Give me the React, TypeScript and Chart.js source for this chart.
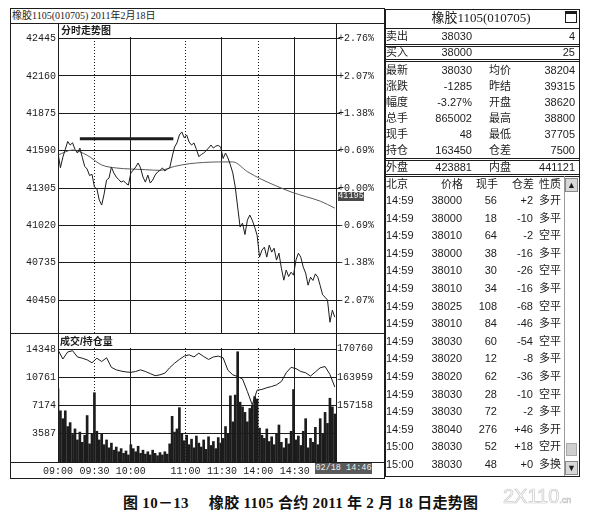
import React, { useEffect, useRef } from 'react';
import { Chart, registerables } from 'chart.js';

Chart.register(...registerables);

// one price / volume sample every 2 minutes of trading time, starting 09:00
const MINUTE_STEP = 2;
const priceValues = [
  41572, 41460, 41540, 41600, 41660, 41633, 41650, 41600, 41572, 41610,
  41540, 41470, 41450, 41400, 41410, 41313, 41300, 41213, 41175, 41260,
  41366, 41381, 41465, 41420, 41389, 41370, 41350, 41360, 41340, 41328,
  41420, 41442, 41465, 41496, 41458, 41389, 41350, 41404, 41343, 41366,
  41404, 41427, 41440, 41458, 41435, 41450, 41458, 41542, 41618, 41649,
  41710, 41733, 41688, 41710, 41656, 41633, 41649, 41600, 41545, 41560,
  41572, 41590, 41610, 41633, 41610, 41625, 41630, 41618, 41530, 41572,
  41534, 41481, 41420, 41313, 41160, 41007, 41037, 40950, 41060, 41099,
  41060, 41007, 40946, 40778, 40831, 40854, 40778, 40869, 40816, 40846,
  40755, 40808, 40694, 40602, 40679, 40630, 40663, 40640, 40755, 40808,
  40778, 40702, 40656, 40564, 40625, 40600, 40650, 40625, 40560, 40490,
  40472, 40450, 40281, 40373, 40320,
];
// average price line, one value every 12 minutes
const AVG_STEP = 12;
const avgValues = [
  41557, 41595, 41555, 41481, 41458, 41450, 41445, 41440, 41470, 41490,
  41500, 41504, 41504, 41430, 41370, 41320, 41275, 41240, 41205, 41152,
];
// open interest, one value every 4 minutes
const OI_STEP = 4;
const openInterest = [
  170500, 168300, 170000, 170300, 168800, 168500, 168100, 167400, 168500, 167700,
  168600, 166300, 165700, 165400, 165200, 165100, 165300, 165700, 165300, 164800,
  164300, 164500, 164900, 166200, 167300, 168200, 169000, 169300, 168800, 169700,
  168900, 168200, 168800, 169000, 168600, 165600, 164500, 164100, 163500, 160500,
  157300, 160800, 161000, 161400, 161700, 162100, 162900, 165000, 166300, 166000,
  165300, 165000, 164200, 165200, 166200, 166500, 164600, 161600,
];
const volumeValues = [
  9300, 6500, 5500, 6500, 4500, 5000, 3500, 4200, 2800, 3800,
  2500, 3400, 5900, 2300, 3600, 8800, 3900, 2800, 3600, 2200,
  2800, 1800, 2400, 1500, 1900, 1300, 1700, 1100, 1400, 900,
  2200, 1700, 1300, 2000, 1100, 1500, 1000, 1300, 900, 1500,
  1100, 800, 1200, 900, 1300, 1000, 2300, 5800, 3800, 4200,
  6900, 3600, 2700, 3400, 2200, 2900, 1800, 3300, 2400, 1900,
  2800, 1600, 3200, 2100, 2600, 1700, 3100, 2400, 3000, 4500,
  3600, 8400, 5100, 8500, 14000, 7600, 7000, 6300, 5100, 6800,
  7200, 8300, 8000, 4300, 3400, 3000, 4200, 2600, 3200, 2200,
  3600, 4700, 2500, 1800, 3000, 2300, 3900, 9200, 2800, 3300,
  2100, 3900, 5500, 1800, 3000, 2500, 4400, 2200, 5500, 3600,
  6300, 4900, 8100, 7000, 6100,
];
// thick horizontal marker drawn over the morning range
const markerSpan = [18, 95];
const markerPrice = 41680;

const priceTicks = [40450, 40735, 41020, 41305, 41590, 41875, 42160, 42445];
const pctLabels = ['-2.07%', '-1.38%', '-0.69%', '+0.00%', '+0.69%', '+1.38%', '+2.07%', '+2.76%'];
const timeTicks = [0, 30, 60, 105, 135, 165, 195];
const timeLabels = ['09:00', '09:30', '10:00', '11:00', '11:30', '14:00', '14:30'];
const solidTimes = [60, 135, 195];
const dottedTimes = [30, 105, 165];
const volumeTicks = [3587, 7174, 10761, 14348];
const oiTicks = [157158, 163959, 170760];

const quoteRows = [
  ['卖出', '38030', '4'],
  ['买入', '38000', '25'],
];
const statRows = [
  ['最新', '38030', '均价', '38204'],
  ['涨跌', '-1285', '昨结', '39315'],
  ['幅度', '-3.27%', '开盘', '38620'],
  ['总手', '865002', '最高', '38800'],
  ['现手', '48', '最低', '37705'],
  ['持仓', '163450', '仓差', '7500'],
];
const outerRow = ['外盘', '423881', '内盘', '441121'];
const tradeHeader = ['北京', '价格', '现手', '仓差', '性质'];
const tradeTimes = ['14:59', '14:59', '14:59', '14:59', '14:59', '14:59', '14:59', '14:59', '14:59', '14:59', '14:59', '14:59', '14:59', '14:59', '15:00', '15:00'];
const tradePrices = ['38000', '38000', '38010', '38000', '38010', '38010', '38025', '38010', '38030', '38020', '38020', '38030', '38030', '38040', '38030', '38030'];
const tradeVolumes = ['56', '18', '64', '38', '30', '34', '108', '84', '60', '12', '62', '28', '72', '276', '52', '48'];
const tradeDiffs = ['+2', '-10', '-2', '-16', '-26', '-16', '-68', '-46', '-54', '-8', '-36', '-10', '-2', '+46', '+18', '+0'];
const tradeTypes = ['多开', '多平', '空平', '多平', '空平', '多平', '空平', '多平', '空平', '多平', '多平', '空平', '多平', '多开', '空开', '多换'];

const INK = '#1c1c1c';
const MONO = "'Liberation Mono', 'DejaVu Sans Mono', monospace";
const SANS = "'Liberation Sans', 'Noto Sans CJK SC', sans-serif";
const CJK = "'Liberation Serif', 'Noto Sans CJK SC', serif";
const tickFont = { family: MONO, size: 10 };

const setTicks = (values: number[]) => (s: any) => {
  s.ticks = values.map((v) => ({ value: v }));
};
const fixWidth = (w: number) => (s: any) => {
  s.width = w;
  s.paddingTop = 0;
  s.paddingBottom = 0;
};
const fixHeight = (h: number) => (s: any) => {
  s.height = h;
  s.paddingLeft = 0;
  s.paddingRight = 0;
};

const PriceChart: React.FC = () => {
  const canvasRef = useRef<HTMLCanvasElement | null>(null);

  useEffect(() => {
    if (!canvasRef.current) return;
    const chart = new Chart(canvasRef.current, {
      type: 'line',
      data: {
        datasets: [
          {
            data: priceValues.map((v, i) => ({ x: i * MINUTE_STEP, y: v })),
            borderColor: INK,
            borderWidth: 1,
            pointRadius: 0,
          },
          {
            data: avgValues.map((v, i) => ({ x: i * AVG_STEP, y: v })),
            borderColor: '#5a5a5a',
            borderWidth: 1,
            pointRadius: 0,
            cubicInterpolationMode: 'monotone',
          },
          {
            data: markerSpan.map((m) => ({ x: m, y: markerPrice })),
            borderColor: INK,
            borderWidth: 3,
            pointRadius: 0,
          },
        ],
      },
      options: {
        animation: false,
        responsive: false,
        maintainAspectRatio: false,
        layout: { padding: 0 },
        plugins: { legend: { display: false }, tooltip: { enabled: false } },
        scales: {
          x: {
            type: 'linear',
            min: 0,
            max: 229,
            afterBuildTicks: setTicks(solidTimes),
            ticks: { display: false },
            grid: { color: INK, drawTicks: false },
            border: { display: false },
            afterFit: fixHeight(0),
          },
          x2: {
            type: 'linear',
            position: 'bottom',
            min: 0,
            max: 229,
            afterBuildTicks: setTicks(dottedTimes),
            ticks: { display: false },
            grid: { color: INK, drawTicks: false },
            border: { display: false, dash: [1, 2] },
            afterFit: fixHeight(0),
          },
          y: {
            position: 'left',
            min: 40199,
            max: 42564,
            afterBuildTicks: setTicks(priceTicks),
            ticks: { font: tickFont, color: INK, padding: 2, callback: (v: any) => String(v) },
            grid: { color: INK, drawTicks: false },
            border: { color: INK },
            afterFit: fixWidth(48),
          },
          y1: {
            position: 'right',
            min: 40199,
            max: 42564,
            afterBuildTicks: setTicks(priceTicks),
            ticks: { font: tickFont, color: INK, padding: -2, callback: (_v: any, i: number) => pctLabels[i] },
            grid: { drawOnChartArea: false, color: INK, tickLength: 4 },
            border: { color: INK },
            afterFit: fixWidth(47),
          },
        },
      },
    } as any);

    return () => {
      chart.destroy();
    };
  }, []);

  return (
    <canvas
      ref={canvasRef}
      width={373}
      height={310}
      style={{ position: 'absolute', left: 10, top: 23, width: 373, height: 310 }}
    />
  );
};

const VolumeChart: React.FC = () => {
  const canvasRef = useRef<HTMLCanvasElement | null>(null);

  useEffect(() => {
    if (!canvasRef.current) return;
    const chart = new Chart(canvasRef.current, {
      type: 'bar',
      data: {
        datasets: [
          {
            type: 'line',
            data: openInterest.map((v, i) => ({ x: i * OI_STEP, y: v })),
            yAxisID: 'y1',
            borderColor: INK,
            borderWidth: 1,
            pointRadius: 0,
          },
          {
            type: 'bar',
            data: volumeValues.map((v, i) => ({ x: i * MINUTE_STEP, y: v })),
            yAxisID: 'y',
            backgroundColor: INK,
            barThickness: 2,
          },
        ],
      },
      options: {
        animation: false,
        responsive: false,
        maintainAspectRatio: false,
        layout: { padding: 0 },
        plugins: { legend: { display: false }, tooltip: { enabled: false } },
        scales: {
          x: {
            type: 'linear',
            min: 0,
            max: 229,
            offset: false,
            afterBuildTicks: setTicks(timeTicks),
            ticks: {
              font: tickFont,
              color: INK,
              padding: 3,
              maxRotation: 0,
              autoSkip: false,
              callback: (_v: any, i: number) => timeLabels[i],
            },
            grid: {
              offset: false,
              drawTicks: false,
              color: (c: any) => (c.tick && dottedTimes.includes(c.tick.value) ? 'rgba(0,0,0,0)' : INK),
            },
            border: { color: INK },
            afterFit: fixHeight(16),
          },
          x2: {
            type: 'linear',
            position: 'bottom',
            min: 0,
            max: 229,
            offset: false,
            afterBuildTicks: setTicks(dottedTimes),
            ticks: { display: false },
            grid: { offset: false, color: INK, drawTicks: false },
            border: { display: false, dash: [1, 2] },
            afterFit: fixHeight(0),
          },
          y: {
            position: 'left',
            min: 0,
            max: 16380,
            afterBuildTicks: setTicks(volumeTicks),
            ticks: { font: tickFont, color: INK, padding: 2, callback: (v: any) => String(v) },
            grid: { color: INK, drawTicks: false },
            border: { color: INK },
            afterFit: fixWidth(48),
          },
          y1: {
            position: 'right',
            min: 143556,
            max: 174555,
            afterBuildTicks: setTicks(oiTicks),
            ticks: { font: tickFont, color: INK, padding: 1, callback: (v: any) => String(v) },
            grid: { drawOnChartArea: false, drawTicks: false },
            border: { color: INK },
            afterFit: fixWidth(47),
          },
        },
      },
    } as any);

    return () => {
      chart.destroy();
    };
  }, []);

  return (
    <canvas
      ref={canvasRef}
      width={373}
      height={145}
      style={{ position: 'absolute', left: 10, top: 333, width: 373, height: 145 }}
    />
  );
};

const Txt = ({ x, y, w = 70, align = 'left', children, style = {} }: any) => {
  const left = align === 'right' ? x - w : align === 'center' ? x - w / 2 : x;
  return (
    <div
      style={{
        position: 'absolute',
        left,
        top: y - 8,
        width: w,
        height: 16,
        lineHeight: '16px',
        textAlign: align,
        whiteSpace: 'nowrap',
        ...style,
      }}
    >
      {children}
    </div>
  );
};

const Rule = ({ x, y, w = 1, h = 1, color = INK }: any) => (
  <div style={{ position: 'absolute', left: x, top: y, width: w, height: h, background: color }} />
);

const TL = 385;
const TR = 579;

const QuotePanel: React.FC = () => (
  <div style={{ fontFamily: SANS, fontSize: 11, color: INK }}>
    <Rule x={TL} y={9} h={468} />
    <Rule x={TR} y={9} h={468} />
    {[9, 28, 44, 46, 59, 61, 158, 160, 174, 176, 476].map((y) => (
      <Rule key={y} x={TL} y={y} w={TR - TL + 1} />
    ))}
    <Txt x={481} y={18} w={150} align="center" style={{ fontFamily: CJK, fontSize: 13 }}>
      橡胶1105(010705)
    </Txt>
    <div
      style={{
        position: 'absolute',
        left: 565,
        top: 11,
        width: 10,
        height: 8,
        border: `1px solid ${INK}`,
        borderTop: `3px solid ${INK}`,
      }}
    />
    {quoteRows.map((r, i) => (
      <React.Fragment key={r[0]}>
        <Txt x={386} y={36 + i * 16}>{r[0]}</Txt>
        <Txt x={472} y={36 + i * 16} align="right">{r[1]}</Txt>
        <Txt x={575} y={36 + i * 16} align="right">{r[2]}</Txt>
      </React.Fragment>
    ))}
    {statRows.map((r, i) => (
      <React.Fragment key={r[0]}>
        <Txt x={386} y={70 + i * 16}>{r[0]}</Txt>
        <Txt x={472} y={70 + i * 16} align="right">{r[1]}</Txt>
        <Txt x={500} y={70 + i * 16} w={40} align="center">{r[2]}</Txt>
        <Txt x={575} y={70 + i * 16} align="right">{r[3]}</Txt>
      </React.Fragment>
    ))}
    <Txt x={386} y={167}>{outerRow[0]}</Txt>
    <Txt x={472} y={167} align="right">{outerRow[1]}</Txt>
    <Txt x={500} y={167} w={40} align="center">{outerRow[2]}</Txt>
    <Txt x={575} y={167} align="right">{outerRow[3]}</Txt>

    <Txt x={386} y={184}>{tradeHeader[0]}</Txt>
    <Txt x={452} y={184} w={40} align="center">{tradeHeader[1]}</Txt>
    <Txt x={487} y={184} w={40} align="center">{tradeHeader[2]}</Txt>
    <Txt x={523} y={184} w={40} align="center">{tradeHeader[3]}</Txt>
    <Txt x={550} y={184} w={30} align="center">{tradeHeader[4]}</Txt>
    {tradeTimes.map((t, i) => {
      const y = 200 + i * 17.6;
      return (
        <React.Fragment key={i}>
          <Txt x={386} y={y}>{t}</Txt>
          <Txt x={462} y={y} align="right">{tradePrices[i]}</Txt>
          <Txt x={497} y={y} w={40} align="right">{tradeVolumes[i]}</Txt>
          <Txt x={533} y={y} w={40} align="right">{tradeDiffs[i]}</Txt>
          <Txt x={539} y={y} w={26}>{tradeTypes[i]}</Txt>
        </React.Fragment>
      );
    })}
    {/* scroll bar */}
    <Rule x={564} y={176} h={300} color="#999" />
    <div
      style={{
        position: 'absolute', left: 565, top: 178, width: 13, height: 14, background: '#d8d8d8',
        border: '1px solid #888', boxSizing: 'border-box', fontSize: 9, lineHeight: '12px', textAlign: 'center',
      }}
    >
      ▲
    </div>
    <div style={{ position: 'absolute', left: 566, top: 443, width: 11, height: 13, background: '#cfcfcf', border: '1px solid #aaa', boxSizing: 'border-box' }} />
    <div
      style={{
        position: 'absolute', left: 565, top: 461, width: 13, height: 14, background: '#d8d8d8',
        border: '1px solid #888', boxSizing: 'border-box', fontSize: 9, lineHeight: '12px', textAlign: 'center',
      }}
    >
      ▼
    </div>
  </div>
);

const App: React.FC = () => {
  return (
    <div
      style={{
        position: 'fixed',
        left: 0,
        top: 0,
        width: 611,
        height: 517,
        background: '#fff',
        color: INK,
        overflow: 'hidden',
      }}
    >
      {/* left panel frame */}
      <div
        style={{
          position: 'absolute', left: 10, top: 8, width: 375, height: 471,
          border: `1px solid ${INK}`, boxSizing: 'border-box',
        }}
      />
      <Rule x={10} y={23} w={375} />
      <Txt x={12} y={16} w={200} style={{ fontFamily: CJK, fontSize: 10 }}>
        橡胶1105(010705) 2011年2月18日
      </Txt>

      <PriceChart />
      <VolumeChart />

      <Rule x={10} y={333} w={375} />
      <Rule x={10} y={462} w={375} />

      {/* header strips inside the plots */}
      <div style={{ position: 'absolute', left: 59, top: 24, width: 277, height: 13, background: '#fff' }} />
      <Txt x={61} y={31} w={80} style={{ fontFamily: SANS, fontSize: 10, fontWeight: 700 }}>分时走势图</Txt>
      <div style={{ position: 'absolute', left: 59, top: 334, width: 277, height: 14, background: '#fff' }} />
      <Txt x={60} y={342} w={80} style={{ fontFamily: SANS, fontSize: 10, fontWeight: 700 }}>成交/持仓量</Txt>

      <div
        style={{
          position: 'absolute', left: 338, top: 192, width: 26, height: 9, background: '#4a4a4a',
          color: '#eee', fontFamily: MONO, fontSize: 8.5, lineHeight: '9px', textAlign: 'center',
        }}
      >
        41195
      </div>
      <div
        style={{
          position: 'absolute', left: 315, top: 463, width: 57, height: 11, background: '#5a5a5a',
          color: '#eee', fontFamily: MONO, fontSize: 8.5, lineHeight: '11px', textAlign: 'center',
        }}
      >
        02/18 14:46
      </div>

      <QuotePanel />

      <div
        style={{
          position: 'absolute', left: 123, top: 491, whiteSpace: 'nowrap',
          fontFamily: CJK, fontSize: 15, fontWeight: 700, color: '#111', letterSpacing: 0.3,
        }}
      >
        图 10－13<span style={{ marginLeft: 20 }}>橡胶 1105 合约 2011 年 2 月 18 日走势图</span>
      </div>
      <div
        style={{
          position: 'absolute', left: 503, top: 485, whiteSpace: 'nowrap', fontFamily: SANS,
          fontSize: 20, color: 'transparent', WebkitTextStroke: '0.7px #c8c8c8',
        }}
      >
        2X110<span style={{ fontSize: 9 }}>.cn</span>
      </div>
    </div>
  );
};

export default App;
